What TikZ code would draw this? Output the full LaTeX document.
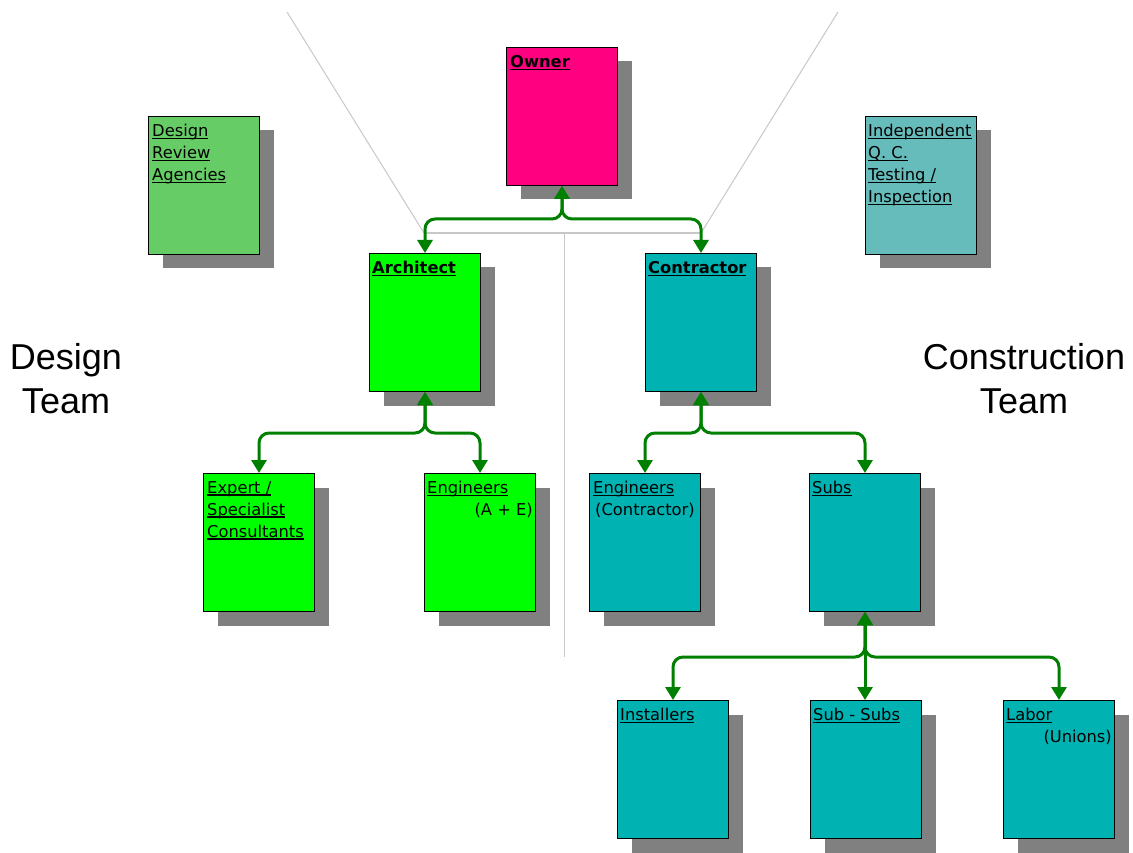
\documentclass[tikz,border=0pt]{standalone}
\usepackage{fontspec}
\setmainfont{DejaVu Sans}
\newfontfamily\arialf{Liberation Sans}
\usetikzlibrary{shadows,arrows.meta}
\definecolor{ownerpink}{HTML}{FF0080}
\definecolor{archgreen}{HTML}{00FF00}
\definecolor{drgreen}{HTML}{66CC66}
\definecolor{qcteal}{HTML}{66BBBB}
\definecolor{teal}{HTML}{00B2B2}
\definecolor{shadowgray}{HTML}{808080}
\definecolor{arrowgreen}{HTML}{008000}
\definecolor{guide}{HTML}{C8C8C8}
\newcommand\ulx[1]{\setbox0\hbox{#1}\rlap{\rule[-2.6pt]{\wd0}{1.3pt}}\box0}
\tikzset{
  card/.style={draw=black, line width=1pt, minimum width=111pt, minimum height=138pt,
    inner sep=0pt, anchor=north west,
    drop shadow={shadow xshift=14pt, shadow yshift=-14pt, fill=shadowgray, opacity=1}},
  title/.style={anchor=north west, inner sep=0pt, align=left, font=\fontsize{16.3}{22}\selectfont},
  sub/.style={inner sep=0pt, font=\fontsize{16.3}{22}\selectfont},
  conn/.style={draw=arrowgreen, line width=3pt, rounded corners=10pt,
    {Triangle[width=15pt,length=13pt]}-{Triangle[width=15pt,length=13pt]}},
  guideline/.style={draw=guide, line width=1pt},
  bigl/.style={align=center, inner sep=0pt, font=\arialf\fontsize{36}{44}\selectfont}
}
\begin{document}
\begin{tikzpicture}[x=1pt,y=-1pt]
\path[use as bounding box, fill=white] (0,0) rectangle (1133,853);

% guide lines
\coordinate (gl1) at (287,12);
\coordinate (gl2) at (424,233);
\coordinate (gr1) at (838,12);
\coordinate (gr2) at (701,233);
\coordinate (gv1) at (564,233);
\coordinate (gv2) at (564,657);
\draw[guideline] (gl1) -- (gl2);
\draw[guideline] (gr1) -- (gr2);
\draw[guideline, line width=2pt] (gl2) -- (gr2);
\draw[guideline] (gv1) -- (gv2);

% cards
\node[card, fill=drgreen] (dra) at (148,116) {};
\node[card, fill=ownerpink] (owner) at (506,47) {};
\node[card, fill=qcteal] (qc) at (865,116) {};
\node[card, fill=archgreen] (arch) at (369,253) {};
\node[card, fill=teal] (contr) at (645,253) {};
\node[card, fill=archgreen] (expert) at (203,473) {};
\node[card, fill=archgreen] (engae) at (424,473) {};
\node[card, fill=teal] (engc) at (589,473) {};
\node[card, fill=teal] (subs) at (809,473) {};
\node[card, fill=teal] (inst) at (617,700) {};
\node[card, fill=teal] (subsub) at (810,700) {};
\node[card, fill=teal] (labor) at (1003,700) {};

% titles
\node[title] (draT) at ([shift={(4,8)}]dra.north west) {\ulx{Design}\\\ulx{Review}\\\ulx{Agencies}};
\node[title] (ownerT) at ([shift={(4,8)}]owner.north west) {\ulx{\bfseries Owner}};
\node[title] (qcT) at ([shift={(3,8)}]qc.north west) {\ulx{Independent}\\\ulx{Q. C.}\\\ulx{Testing /}\\\ulx{Inspection}};
\node[title] (archT) at ([shift={(3,8)}]arch.north west) {\ulx{\bfseries Architect}};
\node[title] (contrT) at ([shift={(3,8)}]contr.north west) {\ulx{\bfseries Contractor}};
\node[title] (expertT) at ([shift={(4,8)}]expert.north west) {\ulx{Expert /}\\\ulx{Specialist}\\\ulx{Consultants}};
\node[title] (engaeT) at ([shift={(3,8)}]engae.north west) {\ulx{Engineers}};
\node[title] (engcT) at ([shift={(4,8)}]engc.north west) {\ulx{Engineers}};
\node[title] (subsT) at ([shift={(3,8)}]subs.north west) {\ulx{Subs}};
\node[title] (instT) at ([shift={(3,8)}]inst.north west) {\ulx{Installers}};
\node[title] (subsubT) at ([shift={(3,8)}]subsub.north west) {\ulx{Sub - Subs}};
\node[title] (laborT) at ([shift={(3,8)}]labor.north west) {\ulx{Labor}};

\node[sub, anchor=base east] (engaeS) at ([shift={(-3,42)}]engae.north east) {(A + E)};
\node[sub, anchor=base west] (engcS) at ([shift={(6,42)}]engc.north west) {(Contractor)};
\node[sub, anchor=base east] (laborS) at ([shift={(-3,42)}]labor.north east) {(Unions)};

% connectors
\draw[conn] (owner.south) -- ++(0,33) -| (arch.north);
\draw[conn] (owner.south) -- ++(0,33) -| (contr.north);
\draw[conn] (arch.south) -- ++(0,41) -| (expert.north);
\draw[conn] (arch.south) -- ++(0,41) -| (engae.north);
\draw[conn] (contr.south) -- ++(0,41) -| (engc.north);
\draw[conn] (contr.south) -- ++(0,41) -| (subs.north);
\draw[conn] (subs.south) -- ++(0,45) -| (inst.north);
\draw[conn] (subs.south) -- (subs.south |- subsub.north);
\draw[conn] (subs.south) -- ++(0,45) -| (labor.north);

% team labels
\node[bigl] (dteam) at (66,379) {Design\\Team};
\node[bigl] (cteam) at (1024,379) {Construction\\Team};
\end{tikzpicture}
\end{document}
